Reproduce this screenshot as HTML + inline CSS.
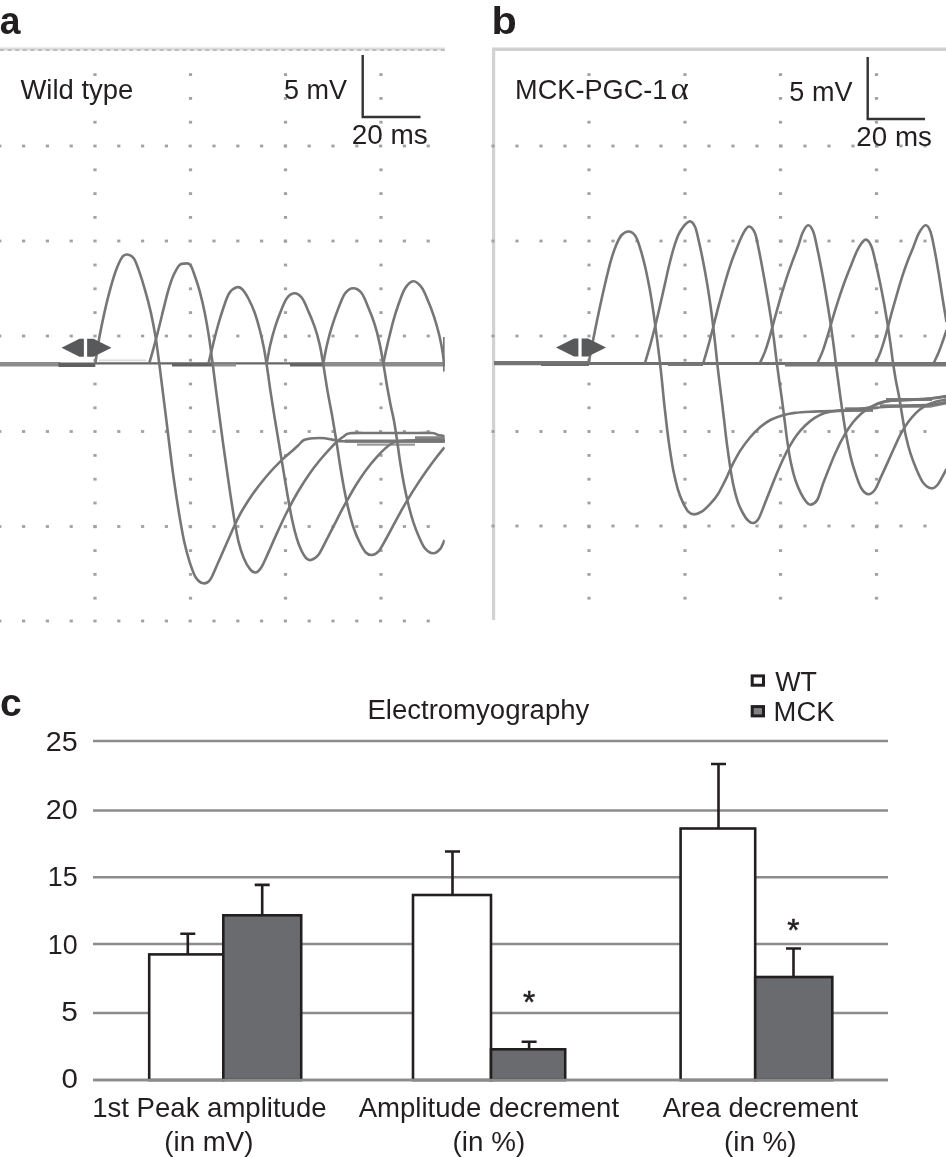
<!DOCTYPE html>
<html><head><meta charset="utf-8"><title>Figure</title>
<style>
html,body{margin:0;padding:0;background:#fff;}
body{width:946px;height:1157px;overflow:hidden;font-family:"Liberation Sans",sans-serif;}
svg{display:block;will-change:transform;}
</style></head><body>
<svg width="946" height="1157" viewBox="0 0 946 1157">
<rect x="0" y="0" width="946" height="1157" fill="#ffffff"/>
<g id="pa">
<line x1="0" y1="49" x2="445" y2="49" stroke="#dcdcdc" stroke-width="3"/>
<line x1="0" y1="50" x2="445" y2="50" stroke="#bdbdbd" stroke-width="1.8" stroke-dasharray="4 3.6"/>
<g fill="#a2a2a2"><rect x="-1.8" y="144.6" width="3.2" height="2.8"/><rect x="22.0" y="144.6" width="3.2" height="2.8"/><rect x="45.8" y="144.6" width="3.2" height="2.8"/><rect x="69.6" y="144.6" width="3.2" height="2.8"/><rect x="93.4" y="144.6" width="3.2" height="2.8"/><rect x="117.2" y="144.6" width="3.2" height="2.8"/><rect x="141.0" y="144.6" width="3.2" height="2.8"/><rect x="164.8" y="144.6" width="3.2" height="2.8"/><rect x="188.6" y="144.6" width="3.2" height="2.8"/><rect x="212.4" y="144.6" width="3.2" height="2.8"/><rect x="236.2" y="144.6" width="3.2" height="2.8"/><rect x="260.0" y="144.6" width="3.2" height="2.8"/><rect x="283.8" y="144.6" width="3.2" height="2.8"/><rect x="307.6" y="144.6" width="3.2" height="2.8"/><rect x="331.4" y="144.6" width="3.2" height="2.8"/><rect x="355.2" y="144.6" width="3.2" height="2.8"/><rect x="379.0" y="144.6" width="3.2" height="2.8"/><rect x="402.8" y="144.6" width="3.2" height="2.8"/><rect x="426.6" y="144.6" width="3.2" height="2.8"/><rect x="-1.8" y="239.6" width="3.2" height="2.8"/><rect x="22.0" y="239.6" width="3.2" height="2.8"/><rect x="45.8" y="239.6" width="3.2" height="2.8"/><rect x="69.6" y="239.6" width="3.2" height="2.8"/><rect x="93.4" y="239.6" width="3.2" height="2.8"/><rect x="117.2" y="239.6" width="3.2" height="2.8"/><rect x="141.0" y="239.6" width="3.2" height="2.8"/><rect x="164.8" y="239.6" width="3.2" height="2.8"/><rect x="188.6" y="239.6" width="3.2" height="2.8"/><rect x="212.4" y="239.6" width="3.2" height="2.8"/><rect x="236.2" y="239.6" width="3.2" height="2.8"/><rect x="260.0" y="239.6" width="3.2" height="2.8"/><rect x="283.8" y="239.6" width="3.2" height="2.8"/><rect x="307.6" y="239.6" width="3.2" height="2.8"/><rect x="331.4" y="239.6" width="3.2" height="2.8"/><rect x="355.2" y="239.6" width="3.2" height="2.8"/><rect x="379.0" y="239.6" width="3.2" height="2.8"/><rect x="402.8" y="239.6" width="3.2" height="2.8"/><rect x="426.6" y="239.6" width="3.2" height="2.8"/><rect x="-1.8" y="334.6" width="3.2" height="2.8"/><rect x="22.0" y="334.6" width="3.2" height="2.8"/><rect x="45.8" y="334.6" width="3.2" height="2.8"/><rect x="69.6" y="334.6" width="3.2" height="2.8"/><rect x="93.4" y="334.6" width="3.2" height="2.8"/><rect x="117.2" y="334.6" width="3.2" height="2.8"/><rect x="141.0" y="334.6" width="3.2" height="2.8"/><rect x="164.8" y="334.6" width="3.2" height="2.8"/><rect x="188.6" y="334.6" width="3.2" height="2.8"/><rect x="212.4" y="334.6" width="3.2" height="2.8"/><rect x="236.2" y="334.6" width="3.2" height="2.8"/><rect x="260.0" y="334.6" width="3.2" height="2.8"/><rect x="283.8" y="334.6" width="3.2" height="2.8"/><rect x="307.6" y="334.6" width="3.2" height="2.8"/><rect x="331.4" y="334.6" width="3.2" height="2.8"/><rect x="355.2" y="334.6" width="3.2" height="2.8"/><rect x="379.0" y="334.6" width="3.2" height="2.8"/><rect x="402.8" y="334.6" width="3.2" height="2.8"/><rect x="426.6" y="334.6" width="3.2" height="2.8"/><rect x="-1.8" y="430.1" width="3.2" height="2.8"/><rect x="22.0" y="430.1" width="3.2" height="2.8"/><rect x="45.8" y="430.1" width="3.2" height="2.8"/><rect x="69.6" y="430.1" width="3.2" height="2.8"/><rect x="93.4" y="430.1" width="3.2" height="2.8"/><rect x="117.2" y="430.1" width="3.2" height="2.8"/><rect x="141.0" y="430.1" width="3.2" height="2.8"/><rect x="164.8" y="430.1" width="3.2" height="2.8"/><rect x="188.6" y="430.1" width="3.2" height="2.8"/><rect x="212.4" y="430.1" width="3.2" height="2.8"/><rect x="236.2" y="430.1" width="3.2" height="2.8"/><rect x="260.0" y="430.1" width="3.2" height="2.8"/><rect x="283.8" y="430.1" width="3.2" height="2.8"/><rect x="307.6" y="430.1" width="3.2" height="2.8"/><rect x="331.4" y="430.1" width="3.2" height="2.8"/><rect x="355.2" y="430.1" width="3.2" height="2.8"/><rect x="379.0" y="430.1" width="3.2" height="2.8"/><rect x="402.8" y="430.1" width="3.2" height="2.8"/><rect x="426.6" y="430.1" width="3.2" height="2.8"/><rect x="-1.8" y="525.1" width="3.2" height="2.8"/><rect x="22.0" y="525.1" width="3.2" height="2.8"/><rect x="45.8" y="525.1" width="3.2" height="2.8"/><rect x="69.6" y="525.1" width="3.2" height="2.8"/><rect x="93.4" y="525.1" width="3.2" height="2.8"/><rect x="117.2" y="525.1" width="3.2" height="2.8"/><rect x="141.0" y="525.1" width="3.2" height="2.8"/><rect x="164.8" y="525.1" width="3.2" height="2.8"/><rect x="188.6" y="525.1" width="3.2" height="2.8"/><rect x="212.4" y="525.1" width="3.2" height="2.8"/><rect x="236.2" y="525.1" width="3.2" height="2.8"/><rect x="260.0" y="525.1" width="3.2" height="2.8"/><rect x="283.8" y="525.1" width="3.2" height="2.8"/><rect x="307.6" y="525.1" width="3.2" height="2.8"/><rect x="331.4" y="525.1" width="3.2" height="2.8"/><rect x="355.2" y="525.1" width="3.2" height="2.8"/><rect x="379.0" y="525.1" width="3.2" height="2.8"/><rect x="402.8" y="525.1" width="3.2" height="2.8"/><rect x="426.6" y="525.1" width="3.2" height="2.8"/><rect x="-1.8" y="619.6" width="3.2" height="2.8"/><rect x="22.0" y="619.6" width="3.2" height="2.8"/><rect x="45.8" y="619.6" width="3.2" height="2.8"/><rect x="69.6" y="619.6" width="3.2" height="2.8"/><rect x="93.4" y="619.6" width="3.2" height="2.8"/><rect x="117.2" y="619.6" width="3.2" height="2.8"/><rect x="141.0" y="619.6" width="3.2" height="2.8"/><rect x="164.8" y="619.6" width="3.2" height="2.8"/><rect x="188.6" y="619.6" width="3.2" height="2.8"/><rect x="212.4" y="619.6" width="3.2" height="2.8"/><rect x="236.2" y="619.6" width="3.2" height="2.8"/><rect x="260.0" y="619.6" width="3.2" height="2.8"/><rect x="283.8" y="619.6" width="3.2" height="2.8"/><rect x="307.6" y="619.6" width="3.2" height="2.8"/><rect x="331.4" y="619.6" width="3.2" height="2.8"/><rect x="355.2" y="619.6" width="3.2" height="2.8"/><rect x="379.0" y="619.6" width="3.2" height="2.8"/><rect x="402.8" y="619.6" width="3.2" height="2.8"/><rect x="426.6" y="619.6" width="3.2" height="2.8"/><rect x="93.4" y="73.2" width="3.2" height="2.8"/><rect x="93.4" y="97.0" width="3.2" height="2.8"/><rect x="93.4" y="120.8" width="3.2" height="2.8"/><rect x="93.4" y="168.4" width="3.2" height="2.8"/><rect x="93.4" y="192.2" width="3.2" height="2.8"/><rect x="93.4" y="216.0" width="3.2" height="2.8"/><rect x="93.4" y="263.6" width="3.2" height="2.8"/><rect x="93.4" y="287.4" width="3.2" height="2.8"/><rect x="93.4" y="311.2" width="3.2" height="2.8"/><rect x="93.4" y="358.8" width="3.2" height="2.8"/><rect x="93.4" y="382.6" width="3.2" height="2.8"/><rect x="93.4" y="406.4" width="3.2" height="2.8"/><rect x="93.4" y="454.0" width="3.2" height="2.8"/><rect x="93.4" y="477.8" width="3.2" height="2.8"/><rect x="93.4" y="501.6" width="3.2" height="2.8"/><rect x="93.4" y="525.4" width="3.2" height="2.8"/><rect x="93.4" y="549.2" width="3.2" height="2.8"/><rect x="93.4" y="573.0" width="3.2" height="2.8"/><rect x="93.4" y="596.8" width="3.2" height="2.8"/><rect x="188.9" y="73.2" width="3.2" height="2.8"/><rect x="188.9" y="97.0" width="3.2" height="2.8"/><rect x="188.9" y="120.8" width="3.2" height="2.8"/><rect x="188.9" y="168.4" width="3.2" height="2.8"/><rect x="188.9" y="192.2" width="3.2" height="2.8"/><rect x="188.9" y="216.0" width="3.2" height="2.8"/><rect x="188.9" y="263.6" width="3.2" height="2.8"/><rect x="188.9" y="287.4" width="3.2" height="2.8"/><rect x="188.9" y="311.2" width="3.2" height="2.8"/><rect x="188.9" y="358.8" width="3.2" height="2.8"/><rect x="188.9" y="382.6" width="3.2" height="2.8"/><rect x="188.9" y="406.4" width="3.2" height="2.8"/><rect x="188.9" y="454.0" width="3.2" height="2.8"/><rect x="188.9" y="477.8" width="3.2" height="2.8"/><rect x="188.9" y="501.6" width="3.2" height="2.8"/><rect x="188.9" y="525.4" width="3.2" height="2.8"/><rect x="188.9" y="549.2" width="3.2" height="2.8"/><rect x="188.9" y="573.0" width="3.2" height="2.8"/><rect x="188.9" y="596.8" width="3.2" height="2.8"/><rect x="283.9" y="73.2" width="3.2" height="2.8"/><rect x="283.9" y="97.0" width="3.2" height="2.8"/><rect x="283.9" y="120.8" width="3.2" height="2.8"/><rect x="283.9" y="144.6" width="3.2" height="2.8"/><rect x="283.9" y="168.4" width="3.2" height="2.8"/><rect x="283.9" y="192.2" width="3.2" height="2.8"/><rect x="283.9" y="216.0" width="3.2" height="2.8"/><rect x="283.9" y="239.8" width="3.2" height="2.8"/><rect x="283.9" y="263.6" width="3.2" height="2.8"/><rect x="283.9" y="287.4" width="3.2" height="2.8"/><rect x="283.9" y="311.2" width="3.2" height="2.8"/><rect x="283.9" y="335.0" width="3.2" height="2.8"/><rect x="283.9" y="358.8" width="3.2" height="2.8"/><rect x="283.9" y="382.6" width="3.2" height="2.8"/><rect x="283.9" y="406.4" width="3.2" height="2.8"/><rect x="283.9" y="430.2" width="3.2" height="2.8"/><rect x="283.9" y="454.0" width="3.2" height="2.8"/><rect x="283.9" y="477.8" width="3.2" height="2.8"/><rect x="283.9" y="501.6" width="3.2" height="2.8"/><rect x="283.9" y="525.4" width="3.2" height="2.8"/><rect x="283.9" y="549.2" width="3.2" height="2.8"/><rect x="283.9" y="573.0" width="3.2" height="2.8"/><rect x="283.9" y="596.8" width="3.2" height="2.8"/><rect x="379.4" y="73.2" width="3.2" height="2.8"/><rect x="379.4" y="97.0" width="3.2" height="2.8"/><rect x="379.4" y="120.8" width="3.2" height="2.8"/><rect x="379.4" y="168.4" width="3.2" height="2.8"/><rect x="379.4" y="192.2" width="3.2" height="2.8"/><rect x="379.4" y="216.0" width="3.2" height="2.8"/><rect x="379.4" y="263.6" width="3.2" height="2.8"/><rect x="379.4" y="287.4" width="3.2" height="2.8"/><rect x="379.4" y="311.2" width="3.2" height="2.8"/><rect x="379.4" y="358.8" width="3.2" height="2.8"/><rect x="379.4" y="382.6" width="3.2" height="2.8"/><rect x="379.4" y="406.4" width="3.2" height="2.8"/><rect x="379.4" y="454.0" width="3.2" height="2.8"/><rect x="379.4" y="477.8" width="3.2" height="2.8"/><rect x="379.4" y="501.6" width="3.2" height="2.8"/><rect x="379.4" y="525.4" width="3.2" height="2.8"/><rect x="379.4" y="549.2" width="3.2" height="2.8"/><rect x="379.4" y="573.0" width="3.2" height="2.8"/><rect x="379.4" y="596.8" width="3.2" height="2.8"/></g>
</g>
<g id="pb">
<line x1="492" y1="49.2" x2="946" y2="49.2" stroke="#d0d0d0" stroke-width="3.6"/>
<line x1="493.6" y1="48" x2="493.6" y2="620" stroke="#d2d2d2" stroke-width="3.2"/>
<g fill="#a2a2a2"><rect x="491.4" y="144.6" width="3.2" height="2.8"/><rect x="515.4" y="144.6" width="3.2" height="2.8"/><rect x="539.4" y="144.6" width="3.2" height="2.8"/><rect x="563.4" y="144.6" width="3.2" height="2.8"/><rect x="587.4" y="144.6" width="3.2" height="2.8"/><rect x="611.4" y="144.6" width="3.2" height="2.8"/><rect x="635.4" y="144.6" width="3.2" height="2.8"/><rect x="659.4" y="144.6" width="3.2" height="2.8"/><rect x="683.4" y="144.6" width="3.2" height="2.8"/><rect x="707.4" y="144.6" width="3.2" height="2.8"/><rect x="731.4" y="144.6" width="3.2" height="2.8"/><rect x="755.4" y="144.6" width="3.2" height="2.8"/><rect x="779.4" y="144.6" width="3.2" height="2.8"/><rect x="803.4" y="144.6" width="3.2" height="2.8"/><rect x="827.4" y="144.6" width="3.2" height="2.8"/><rect x="851.4" y="144.6" width="3.2" height="2.8"/><rect x="875.4" y="144.6" width="3.2" height="2.8"/><rect x="899.4" y="144.6" width="3.2" height="2.8"/><rect x="923.4" y="144.6" width="3.2" height="2.8"/><rect x="491.4" y="239.6" width="3.2" height="2.8"/><rect x="515.4" y="239.6" width="3.2" height="2.8"/><rect x="539.4" y="239.6" width="3.2" height="2.8"/><rect x="563.4" y="239.6" width="3.2" height="2.8"/><rect x="587.4" y="239.6" width="3.2" height="2.8"/><rect x="611.4" y="239.6" width="3.2" height="2.8"/><rect x="635.4" y="239.6" width="3.2" height="2.8"/><rect x="659.4" y="239.6" width="3.2" height="2.8"/><rect x="683.4" y="239.6" width="3.2" height="2.8"/><rect x="707.4" y="239.6" width="3.2" height="2.8"/><rect x="731.4" y="239.6" width="3.2" height="2.8"/><rect x="755.4" y="239.6" width="3.2" height="2.8"/><rect x="779.4" y="239.6" width="3.2" height="2.8"/><rect x="803.4" y="239.6" width="3.2" height="2.8"/><rect x="827.4" y="239.6" width="3.2" height="2.8"/><rect x="851.4" y="239.6" width="3.2" height="2.8"/><rect x="875.4" y="239.6" width="3.2" height="2.8"/><rect x="899.4" y="239.6" width="3.2" height="2.8"/><rect x="923.4" y="239.6" width="3.2" height="2.8"/><rect x="491.4" y="334.6" width="3.2" height="2.8"/><rect x="515.4" y="334.6" width="3.2" height="2.8"/><rect x="539.4" y="334.6" width="3.2" height="2.8"/><rect x="563.4" y="334.6" width="3.2" height="2.8"/><rect x="587.4" y="334.6" width="3.2" height="2.8"/><rect x="611.4" y="334.6" width="3.2" height="2.8"/><rect x="635.4" y="334.6" width="3.2" height="2.8"/><rect x="659.4" y="334.6" width="3.2" height="2.8"/><rect x="683.4" y="334.6" width="3.2" height="2.8"/><rect x="707.4" y="334.6" width="3.2" height="2.8"/><rect x="731.4" y="334.6" width="3.2" height="2.8"/><rect x="755.4" y="334.6" width="3.2" height="2.8"/><rect x="779.4" y="334.6" width="3.2" height="2.8"/><rect x="803.4" y="334.6" width="3.2" height="2.8"/><rect x="827.4" y="334.6" width="3.2" height="2.8"/><rect x="851.4" y="334.6" width="3.2" height="2.8"/><rect x="875.4" y="334.6" width="3.2" height="2.8"/><rect x="899.4" y="334.6" width="3.2" height="2.8"/><rect x="923.4" y="334.6" width="3.2" height="2.8"/><rect x="491.4" y="430.1" width="3.2" height="2.8"/><rect x="515.4" y="430.1" width="3.2" height="2.8"/><rect x="539.4" y="430.1" width="3.2" height="2.8"/><rect x="563.4" y="430.1" width="3.2" height="2.8"/><rect x="587.4" y="430.1" width="3.2" height="2.8"/><rect x="611.4" y="430.1" width="3.2" height="2.8"/><rect x="635.4" y="430.1" width="3.2" height="2.8"/><rect x="659.4" y="430.1" width="3.2" height="2.8"/><rect x="683.4" y="430.1" width="3.2" height="2.8"/><rect x="707.4" y="430.1" width="3.2" height="2.8"/><rect x="731.4" y="430.1" width="3.2" height="2.8"/><rect x="755.4" y="430.1" width="3.2" height="2.8"/><rect x="779.4" y="430.1" width="3.2" height="2.8"/><rect x="803.4" y="430.1" width="3.2" height="2.8"/><rect x="827.4" y="430.1" width="3.2" height="2.8"/><rect x="851.4" y="430.1" width="3.2" height="2.8"/><rect x="875.4" y="430.1" width="3.2" height="2.8"/><rect x="899.4" y="430.1" width="3.2" height="2.8"/><rect x="923.4" y="430.1" width="3.2" height="2.8"/><rect x="491.4" y="524.6" width="3.2" height="2.8"/><rect x="515.4" y="524.6" width="3.2" height="2.8"/><rect x="539.4" y="524.6" width="3.2" height="2.8"/><rect x="563.4" y="524.6" width="3.2" height="2.8"/><rect x="587.4" y="524.6" width="3.2" height="2.8"/><rect x="611.4" y="524.6" width="3.2" height="2.8"/><rect x="635.4" y="524.6" width="3.2" height="2.8"/><rect x="659.4" y="524.6" width="3.2" height="2.8"/><rect x="683.4" y="524.6" width="3.2" height="2.8"/><rect x="707.4" y="524.6" width="3.2" height="2.8"/><rect x="731.4" y="524.6" width="3.2" height="2.8"/><rect x="755.4" y="524.6" width="3.2" height="2.8"/><rect x="779.4" y="524.6" width="3.2" height="2.8"/><rect x="803.4" y="524.6" width="3.2" height="2.8"/><rect x="827.4" y="524.6" width="3.2" height="2.8"/><rect x="851.4" y="524.6" width="3.2" height="2.8"/><rect x="875.4" y="524.6" width="3.2" height="2.8"/><rect x="899.4" y="524.6" width="3.2" height="2.8"/><rect x="923.4" y="524.6" width="3.2" height="2.8"/><rect x="587.4" y="73.2" width="3.2" height="2.8"/><rect x="587.4" y="97.0" width="3.2" height="2.8"/><rect x="587.4" y="120.8" width="3.2" height="2.8"/><rect x="587.4" y="168.4" width="3.2" height="2.8"/><rect x="587.4" y="192.2" width="3.2" height="2.8"/><rect x="587.4" y="216.0" width="3.2" height="2.8"/><rect x="587.4" y="263.6" width="3.2" height="2.8"/><rect x="587.4" y="287.4" width="3.2" height="2.8"/><rect x="587.4" y="311.2" width="3.2" height="2.8"/><rect x="587.4" y="358.8" width="3.2" height="2.8"/><rect x="587.4" y="382.6" width="3.2" height="2.8"/><rect x="587.4" y="406.4" width="3.2" height="2.8"/><rect x="587.4" y="454.0" width="3.2" height="2.8"/><rect x="587.4" y="477.8" width="3.2" height="2.8"/><rect x="587.4" y="501.6" width="3.2" height="2.8"/><rect x="587.4" y="525.4" width="3.2" height="2.8"/><rect x="587.4" y="549.2" width="3.2" height="2.8"/><rect x="587.4" y="573.0" width="3.2" height="2.8"/><rect x="587.4" y="596.8" width="3.2" height="2.8"/><rect x="683.4" y="73.2" width="3.2" height="2.8"/><rect x="683.4" y="97.0" width="3.2" height="2.8"/><rect x="683.4" y="120.8" width="3.2" height="2.8"/><rect x="683.4" y="168.4" width="3.2" height="2.8"/><rect x="683.4" y="192.2" width="3.2" height="2.8"/><rect x="683.4" y="216.0" width="3.2" height="2.8"/><rect x="683.4" y="263.6" width="3.2" height="2.8"/><rect x="683.4" y="287.4" width="3.2" height="2.8"/><rect x="683.4" y="311.2" width="3.2" height="2.8"/><rect x="683.4" y="358.8" width="3.2" height="2.8"/><rect x="683.4" y="382.6" width="3.2" height="2.8"/><rect x="683.4" y="406.4" width="3.2" height="2.8"/><rect x="683.4" y="454.0" width="3.2" height="2.8"/><rect x="683.4" y="477.8" width="3.2" height="2.8"/><rect x="683.4" y="501.6" width="3.2" height="2.8"/><rect x="683.4" y="525.4" width="3.2" height="2.8"/><rect x="683.4" y="549.2" width="3.2" height="2.8"/><rect x="683.4" y="573.0" width="3.2" height="2.8"/><rect x="683.4" y="596.8" width="3.2" height="2.8"/><rect x="778.9" y="73.2" width="3.2" height="2.8"/><rect x="778.9" y="97.0" width="3.2" height="2.8"/><rect x="778.9" y="120.8" width="3.2" height="2.8"/><rect x="778.9" y="144.6" width="3.2" height="2.8"/><rect x="778.9" y="168.4" width="3.2" height="2.8"/><rect x="778.9" y="192.2" width="3.2" height="2.8"/><rect x="778.9" y="216.0" width="3.2" height="2.8"/><rect x="778.9" y="239.8" width="3.2" height="2.8"/><rect x="778.9" y="263.6" width="3.2" height="2.8"/><rect x="778.9" y="287.4" width="3.2" height="2.8"/><rect x="778.9" y="311.2" width="3.2" height="2.8"/><rect x="778.9" y="335.0" width="3.2" height="2.8"/><rect x="778.9" y="358.8" width="3.2" height="2.8"/><rect x="778.9" y="382.6" width="3.2" height="2.8"/><rect x="778.9" y="406.4" width="3.2" height="2.8"/><rect x="778.9" y="430.2" width="3.2" height="2.8"/><rect x="778.9" y="454.0" width="3.2" height="2.8"/><rect x="778.9" y="477.8" width="3.2" height="2.8"/><rect x="778.9" y="501.6" width="3.2" height="2.8"/><rect x="778.9" y="525.4" width="3.2" height="2.8"/><rect x="778.9" y="549.2" width="3.2" height="2.8"/><rect x="778.9" y="573.0" width="3.2" height="2.8"/><rect x="778.9" y="596.8" width="3.2" height="2.8"/><rect x="874.9" y="73.2" width="3.2" height="2.8"/><rect x="874.9" y="97.0" width="3.2" height="2.8"/><rect x="874.9" y="120.8" width="3.2" height="2.8"/><rect x="874.9" y="144.6" width="3.2" height="2.8"/><rect x="874.9" y="168.4" width="3.2" height="2.8"/><rect x="874.9" y="192.2" width="3.2" height="2.8"/><rect x="874.9" y="216.0" width="3.2" height="2.8"/><rect x="874.9" y="239.8" width="3.2" height="2.8"/><rect x="874.9" y="263.6" width="3.2" height="2.8"/><rect x="874.9" y="287.4" width="3.2" height="2.8"/><rect x="874.9" y="311.2" width="3.2" height="2.8"/><rect x="874.9" y="335.0" width="3.2" height="2.8"/><rect x="874.9" y="358.8" width="3.2" height="2.8"/><rect x="874.9" y="382.6" width="3.2" height="2.8"/><rect x="874.9" y="406.4" width="3.2" height="2.8"/><rect x="874.9" y="430.2" width="3.2" height="2.8"/><rect x="874.9" y="454.0" width="3.2" height="2.8"/><rect x="874.9" y="477.8" width="3.2" height="2.8"/><rect x="874.9" y="501.6" width="3.2" height="2.8"/><rect x="874.9" y="525.4" width="3.2" height="2.8"/><rect x="874.9" y="549.2" width="3.2" height="2.8"/><rect x="874.9" y="573.0" width="3.2" height="2.8"/><rect x="874.9" y="596.8" width="3.2" height="2.8"/></g>
</g>
<clipPath id="ca"><rect x="0" y="45" width="444.8" height="580"/></clipPath>
<g clip-path="url(#ca)" fill="none" stroke="#767676" stroke-width="2.6" stroke-linejoin="round" stroke-linecap="butt">
<line x1="0" y1="364.3" x2="60" y2="364.3" stroke="#8c8c8c" stroke-width="4.4"/>
<line x1="58.5" y1="364.7" x2="95.3" y2="364.7" stroke="#606060" stroke-width="4.6"/>
<line x1="95" y1="363.4" x2="445" y2="363.4" stroke="#666" stroke-width="2.2"/>
<line x1="99" y1="360.4" x2="146" y2="360.4" stroke="#dcdcdc" stroke-width="1.6"/>
<line x1="172" y1="365" x2="212" y2="365" stroke="#636363" stroke-width="3"/>
<line x1="212" y1="365" x2="236" y2="365" stroke="#909090" stroke-width="3"/>
<line x1="290" y1="365" x2="323" y2="365" stroke="#636363" stroke-width="3"/>
<line x1="323" y1="364.8" x2="445" y2="364.8" stroke="#8c8c8c" stroke-width="3.6"/>
<line x1="443.9" y1="337" x2="443.9" y2="371.5" stroke="#737373" stroke-width="1.8"/>
<path d="M357,444.6 H415" stroke="#9a9a9a" stroke-width="2.2"/>
<path d="M345,441.2 H445" stroke="#787878" stroke-width="3.2"/>
<path d="M415,439.5 H445" stroke="#848484" stroke-width="6.5"/>
<path d="M95.3,363.5 C95.9,359.4 97.6,347.4 99.0,339.2 C100.5,331.0 102.3,322.4 104.1,314.1 C105.9,305.9 108.0,297.1 110.1,289.6 C112.1,282.1 114.3,274.7 116.4,269.2 C118.5,263.7 120.7,259.1 122.5,256.7 C124.3,254.3 125.6,254.2 127.5,254.5 C129.4,254.8 131.9,255.8 133.7,258.3 C135.5,260.8 136.7,264.4 138.6,269.6 C140.4,274.8 142.9,282.3 144.9,289.6 C147.0,296.8 149.2,305.2 151.0,313.1 C152.7,321.0 154.2,328.8 155.6,337.1 C157.0,345.5 158.0,354.2 159.2,363.2 C160.4,372.2 161.5,381.6 162.7,390.9 C163.8,400.1 165.1,409.7 166.2,418.8 C167.3,427.8 168.4,436.5 169.4,445.0 C170.4,453.5 171.4,461.4 172.5,469.6 C173.6,477.8 174.8,485.9 176.0,494.1 C177.3,502.4 178.6,511.1 180.0,519.1 C181.4,527.2 182.8,535.4 184.4,542.5 C186.0,549.6 187.7,556.0 189.6,561.8 C191.5,567.7 193.5,573.9 195.8,577.5 C198.1,581.1 200.9,582.9 203.3,583.3 C205.7,583.7 207.7,583.0 210.0,580.0 C212.3,577.0 214.6,570.5 217.1,565.0 C219.6,559.5 222.4,553.1 225.0,547.1 C227.6,541.1 230.3,534.9 232.9,529.1 C235.5,523.4 237.7,518.5 240.8,512.9 C244.0,507.3 247.4,501.5 251.7,495.4 C255.9,489.4 261.5,482.2 266.3,476.5 C271.1,470.8 276.3,465.4 280.4,461.4 C284.6,457.3 288.0,454.6 291.0,451.9 C294.0,449.2 296.3,447.2 298.4,445.2 C300.6,443.3 301.4,441.2 304.0,440.0 C306.6,438.8 310.5,438.5 314.0,438.2 C317.5,437.9 321.5,437.8 325.0,438.2 C328.5,438.6 331.7,439.8 335.0,440.3 C338.3,440.8 334.2,441.1 345.0,441.2 C355.8,441.3 383.4,441.2 400.0,441.2 C416.6,441.2 437.1,441.2 444.5,441.2"/>
<path d="M149.2,363.5 C150.1,360.4 152.7,351.5 154.4,345.1 C156.1,338.6 158.0,331.4 159.6,325.0 C161.2,318.6 162.6,312.5 164.1,306.7 C165.6,300.8 166.8,295.2 168.4,290.0 C169.9,284.8 171.6,279.6 173.4,275.5 C175.3,271.4 177.4,267.3 179.2,265.3 C181.0,263.3 182.7,263.7 184.5,263.6 C186.3,263.5 188.3,262.6 190.0,264.5 C191.7,266.4 193.0,270.8 194.6,275.3 C196.2,279.8 198.1,285.3 199.8,291.6 C201.5,298.0 203.3,305.5 204.8,313.1 C206.3,320.7 207.7,328.8 209.0,337.1 C210.3,345.5 211.4,354.2 212.6,363.2 C213.8,372.2 214.9,381.6 216.1,390.9 C217.3,400.1 218.6,409.7 219.8,418.8 C221.0,427.8 222.1,436.4 223.3,445.0 C224.5,453.6 225.7,461.9 226.9,470.4 C228.1,478.9 229.4,487.6 230.6,495.9 C231.9,504.1 233.1,512.4 234.4,520.0 C235.7,527.6 237.0,535.3 238.5,541.6 C240.1,548.0 241.8,553.5 243.7,558.1 C245.6,562.7 248.0,566.8 250.0,569.2 C252.0,571.6 253.9,572.9 255.8,572.5 C257.8,572.1 259.5,570.2 261.7,566.7 C263.9,563.2 266.2,557.3 268.8,551.6 C271.3,546.0 274.1,539.4 277.1,532.9 C280.1,526.4 283.3,519.2 286.7,512.5 C290.1,505.8 293.8,498.9 297.5,492.5 C301.3,486.1 305.4,479.6 309.2,474.2 C312.9,468.8 316.6,464.1 320.0,460.0 C323.4,455.9 326.5,452.4 329.4,449.3 C332.2,446.3 334.8,443.6 337.1,441.5 C339.5,439.3 341.5,437.9 343.6,436.5 C345.8,435.1 345.6,433.8 350.0,433.2 C354.4,432.6 363.2,433.0 370.0,433.0 C376.8,433.0 384.3,433.0 391.0,433.0 C397.7,433.0 403.2,433.0 410.0,433.0 C416.8,433.0 427.3,432.7 432.0,433.0 C436.7,433.3 435.9,434.5 438.0,435.0 C440.1,435.5 443.4,435.8 444.5,436.0"/>
<path d="M208.5,363.5 C209.2,360.4 211.3,351.5 212.9,345.1 C214.5,338.6 216.3,331.3 218.1,325.0 C219.9,318.7 221.7,312.8 223.5,307.5 C225.4,302.2 227.0,296.7 229.2,293.3 C231.4,289.9 234.6,288.0 236.7,287.3 C238.8,286.6 240.1,287.1 242.0,289.0 C243.9,290.9 246.3,294.6 248.4,298.5 C250.5,302.4 252.7,307.3 254.6,312.5 C256.5,317.8 258.3,324.2 259.8,330.0 C261.3,335.8 262.6,341.5 263.8,347.5 C265.0,353.6 265.8,359.1 266.9,366.3 C268.1,373.6 269.1,382.1 270.4,390.9 C271.8,399.6 273.3,409.7 274.8,418.8 C276.3,427.8 277.8,436.5 279.2,445.0 C280.6,453.5 281.9,461.7 283.3,470.0 C284.7,478.3 286.1,486.9 287.5,495.0 C288.9,503.1 290.4,511.6 291.9,518.8 C293.4,525.9 295.1,532.8 296.7,538.1 C298.3,543.5 300.0,547.4 301.5,550.8 C303.1,554.1 304.5,556.5 306.0,558.0 C307.5,559.5 308.8,560.5 310.8,560.0 C312.9,559.5 315.9,558.0 318.3,555.0 C320.7,552.0 322.9,546.8 325.4,542.1 C327.9,537.4 330.7,531.8 333.3,526.7 C336.0,521.5 338.7,516.1 341.2,511.2 C343.8,506.4 346.1,502.1 348.8,497.5 C351.4,492.8 354.1,488.0 357.1,483.3 C360.1,478.6 363.4,473.5 366.7,469.2 C370.0,464.8 373.5,460.6 376.7,457.1 C379.9,453.6 383.1,450.3 385.8,447.9 C388.6,445.5 390.4,443.8 393.3,442.6 C396.2,441.4 398.7,441.1 403.3,440.8 C408.0,440.4 414.3,440.4 421.1,440.2 C428.0,440.1 440.6,440.0 444.5,440.0"/>
<path d="M266.7,363.5 C267.3,360.3 269.0,350.3 270.4,344.2 C271.8,338.1 273.5,332.2 275.2,326.7 C276.9,321.2 278.9,316.0 280.8,311.3 C282.7,306.6 284.5,301.5 286.7,298.5 C288.9,295.5 291.7,293.5 294.2,293.3 C296.7,293.1 299.3,294.5 301.7,297.5 C304.1,300.5 306.2,306.2 308.3,311.1 C310.5,315.9 312.7,321.2 314.6,326.7 C316.5,332.2 318.1,337.8 319.6,344.2 C321.1,350.6 322.1,357.3 323.4,365.1 C324.7,372.9 326.0,382.3 327.5,390.9 C329.0,399.5 330.8,408.5 332.3,416.7 C333.7,424.9 334.9,432.0 336.2,440.0 C337.5,448.1 338.7,456.8 340.0,465.0 C341.3,473.2 342.8,481.8 344.2,489.2 C345.6,496.6 347.0,503.2 348.5,509.6 C350.1,516.0 351.7,522.1 353.5,527.5 C355.3,532.9 357.3,537.7 359.4,541.8 C361.4,546.0 363.7,550.3 365.8,552.5 C367.9,554.7 369.6,555.1 371.7,555.0 C373.8,554.9 376.0,554.2 378.3,551.7 C380.6,549.2 382.9,544.4 385.4,540.0 C387.9,535.6 390.7,530.3 393.3,525.4 C396.0,520.6 398.7,515.4 401.2,510.8 C403.8,506.2 406.1,502.3 408.8,497.9 C411.4,493.5 414.1,489.2 417.1,484.6 C420.1,480.0 423.5,474.9 426.7,470.4 C429.9,465.9 433.2,461.5 436.1,457.7 C439.1,453.8 443.1,449.0 444.5,447.3"/>
<path d="M323.3,363.5 C323.9,360.3 325.6,350.5 327.1,344.2 C328.6,337.9 330.2,331.8 332.1,325.9 C334.0,319.9 336.2,313.8 338.3,308.4 C340.5,303.0 342.5,296.9 345.0,293.5 C347.5,290.1 350.5,288.3 353.3,288.3 C356.1,288.3 359.2,290.1 361.7,293.3 C364.2,296.5 366.2,302.4 368.3,307.5 C370.5,312.6 372.7,318.2 374.6,324.1 C376.5,330.1 378.1,336.5 379.6,343.4 C381.1,350.2 382.3,357.7 383.6,365.1 C384.9,372.4 386.1,380.8 387.3,387.6 C388.5,394.3 389.7,400.3 390.8,405.9 C391.9,411.4 393.0,415.3 394.0,420.9 C395.0,426.4 395.9,432.2 396.9,439.2 C397.9,446.1 399.0,454.8 400.2,462.5 C401.4,470.2 402.8,478.3 404.2,485.4 C405.6,492.5 407.0,498.9 408.5,505.0 C410.0,511.1 411.6,516.9 413.3,522.1 C415.0,527.3 416.8,531.9 418.7,536.2 C420.7,540.6 422.6,545.5 425.0,548.3 C427.4,551.1 430.8,553.1 433.3,553.3 C435.8,553.4 438.1,551.4 440.0,549.2 C441.9,547.0 443.8,541.5 444.5,540.0"/>
<path d="M383.3,363.5 C384.1,359.7 386.6,348.0 388.3,340.9 C390.0,333.8 391.6,327.0 393.3,320.8 C395.0,314.6 396.8,309.2 398.7,303.8 C400.7,298.4 402.6,292.2 405.0,288.5 C407.4,284.8 410.5,281.5 413.3,281.3 C416.1,281.1 419.2,284.2 421.7,287.5 C424.2,290.8 426.1,296.2 428.1,301.1 C430.2,305.9 432.2,311.2 434.0,316.7 C435.8,322.1 437.5,328.2 438.9,333.8 C440.3,339.4 441.4,345.3 442.3,350.2 C443.2,355.1 443.7,361.3 444.0,363.5"/>
</g>
<g fill="none" stroke="#767676" stroke-width="2.6" stroke-linejoin="round">
<line x1="494" y1="363.2" x2="589" y2="363.2" stroke="#747474" stroke-width="4.2"/>
<line x1="589" y1="363.4" x2="946" y2="363.4" stroke="#707070" stroke-width="3"/>
<line x1="541" y1="364.8" x2="589" y2="364.8" stroke="#6c6c6c" stroke-width="2.6"/>
<line x1="668" y1="364.6" x2="703" y2="364.6" stroke="#777" stroke-width="3"/>
<line x1="785" y1="364.6" x2="946" y2="364.6" stroke="#777" stroke-width="4"/>
<path d="M845,409.6 H873" stroke="#7c7c7c" stroke-width="4.6"/>
<path d="M880,406 H930 L946,402.6" stroke="#848484" stroke-width="3.6"/>
<path d="M886,399.6 H932" stroke="#808080" stroke-width="3"/>
<path d="M588.7,363.0 C589.6,358.2 592.4,343.3 594.3,334.1 C596.1,324.8 598.0,316.0 599.8,307.5 C601.6,299.0 603.4,291.0 605.2,283.3 C607.0,275.7 608.8,268.0 610.6,261.6 C612.4,255.3 614.2,249.8 616.0,245.4 C617.9,241.0 619.5,237.3 621.7,235.0 C623.9,232.7 626.9,231.2 629.2,231.5 C631.6,231.8 633.9,233.5 635.8,236.7 C637.7,239.8 639.2,245.1 640.8,250.4 C642.4,255.7 644.1,262.2 645.6,268.7 C647.1,275.3 648.5,282.7 649.8,289.6 C651.0,296.5 652.1,303.3 653.1,310.0 C654.1,316.7 655.0,323.3 655.8,329.6 C656.6,335.8 657.4,341.5 658.1,347.4 C658.9,353.3 659.5,358.6 660.2,364.8 C661.0,371.0 661.6,377.7 662.3,384.5 C663.0,391.3 663.6,398.3 664.4,405.4 C665.2,412.6 666.0,420.0 666.9,427.5 C667.8,435.0 668.9,443.2 670.0,450.4 C671.1,457.7 672.2,464.9 673.5,471.3 C674.8,477.7 676.2,483.6 677.7,488.8 C679.2,493.9 680.9,498.2 682.7,502.1 C684.5,505.9 686.4,509.6 688.3,511.7 C690.2,513.8 692.0,514.4 694.2,514.4 C696.4,514.4 699.1,513.4 701.7,511.7 C704.3,510.0 707.3,507.1 710.0,504.2 C712.7,501.3 715.4,498.1 717.9,494.2 C720.4,490.3 722.6,485.6 725.0,480.9 C727.4,476.1 729.5,470.5 732.1,465.4 C734.7,460.4 737.4,455.1 740.4,450.4 C743.4,445.8 746.7,441.4 750.0,437.5 C753.3,433.7 756.6,430.2 760.0,427.3 C763.4,424.4 766.7,422.0 770.4,420.0 C774.1,418.0 778.0,416.6 782.1,415.4 C786.2,414.2 790.2,413.5 794.8,412.9 C799.5,412.3 804.4,412.0 810.0,411.7 C815.7,411.4 822.2,411.4 828.8,411.1 C835.3,410.9 842.9,410.8 849.4,410.4 C855.9,410.0 862.0,409.4 867.8,408.8 C873.5,408.3 877.5,407.5 883.8,407.0 C890.0,406.5 897.7,406.3 905.2,405.9 C912.8,405.6 922.0,405.4 928.9,404.9 C935.8,404.3 943.6,402.9 946.5,402.5"/>
<path d="M645.0,363.0 C645.8,360.3 648.2,352.2 649.8,346.6 C651.4,341.0 652.8,335.4 654.4,329.2 C656.0,322.9 657.6,316.2 659.2,309.2 C660.8,302.2 662.5,294.5 664.2,287.1 C665.9,279.7 667.5,271.9 669.2,265.0 C670.9,258.1 672.6,251.4 674.4,245.8 C676.2,240.3 677.5,235.8 680.0,231.7 C682.5,227.6 686.7,222.3 689.2,221.5 C691.7,220.7 693.3,223.1 695.0,226.7 C696.7,230.3 697.8,237.0 699.2,242.9 C700.6,248.9 702.0,255.6 703.3,262.5 C704.7,269.5 706.1,277.3 707.3,284.6 C708.5,291.9 709.6,299.2 710.6,306.3 C711.6,313.4 712.5,320.4 713.3,327.1 C714.1,333.8 714.8,340.4 715.5,346.6 C716.2,352.7 716.7,358.2 717.3,364.0 C718.0,369.8 718.7,375.5 719.4,381.6 C720.2,387.7 721.0,394.2 721.8,400.9 C722.7,407.5 723.4,414.5 724.3,421.7 C725.1,428.8 725.9,436.4 726.9,443.8 C727.9,451.1 728.9,458.8 730.0,465.9 C731.1,472.9 732.2,479.8 733.5,485.8 C734.8,491.9 736.3,497.5 737.9,502.1 C739.5,506.7 741.4,510.4 743.1,513.5 C744.8,516.6 746.6,519.2 748.3,520.8 C750.0,522.4 751.6,523.3 753.3,523.0 C755.0,522.7 756.6,522.0 758.3,519.2 C760.0,516.4 761.8,511.3 763.7,506.5 C765.7,501.7 767.8,495.9 770.0,490.4 C772.2,484.9 774.5,479.0 776.7,473.7 C778.9,468.4 781.1,463.4 783.3,458.7 C785.5,454.1 787.7,449.7 790.0,445.7 C792.3,441.7 794.5,438.1 797.0,434.8 C799.6,431.4 802.3,428.3 805.2,425.5 C808.1,422.7 811.5,420.0 814.7,417.9 C818.0,415.8 820.7,414.1 824.7,412.9 C828.7,411.7 833.2,411.2 838.5,410.6 C843.8,410.0 851.2,410.0 856.4,409.4 C861.6,408.8 866.3,408.2 869.8,407.2 C873.2,406.3 874.3,404.9 877.2,403.8 C880.2,402.7 882.6,401.6 887.5,400.9 C892.4,400.2 899.6,400.0 906.5,399.7 C913.4,399.3 922.2,399.1 928.9,398.5 C935.5,397.9 943.6,396.4 946.5,396.0"/>
<path d="M703.3,363.0 C704.1,360.1 706.6,351.8 708.3,345.8 C710.0,339.7 711.6,333.4 713.3,326.7 C715.0,320.0 716.8,312.8 718.7,305.4 C720.7,298.1 722.9,289.8 725.0,282.5 C727.1,275.2 729.4,267.9 731.5,261.7 C733.7,255.5 735.7,250.4 737.8,245.4 C739.9,240.4 742.3,234.9 744.2,231.7 C746.1,228.5 747.4,226.2 749.2,226.5 C751.0,226.8 753.3,229.1 755.0,233.3 C756.7,237.5 757.8,245.0 759.2,251.6 C760.6,258.3 762.0,266.0 763.3,273.3 C764.7,280.7 766.0,288.6 767.3,295.9 C768.5,303.1 769.6,309.6 770.7,316.7 C771.8,323.8 772.8,330.9 773.8,338.3 C774.7,345.7 775.7,353.8 776.6,361.1 C777.6,368.4 778.5,375.2 779.4,382.0 C780.4,388.9 781.4,395.2 782.3,402.1 C783.2,409.0 784.1,416.2 785.0,423.3 C785.9,430.4 786.7,437.8 787.8,444.6 C788.8,451.4 789.9,458.1 791.2,464.1 C792.5,470.2 794.0,475.9 795.6,480.8 C797.3,485.6 799.1,489.8 800.8,493.2 C802.6,496.7 804.4,499.6 806.0,501.5 C807.6,503.4 808.6,504.9 810.5,504.7 C812.4,504.4 815.1,503.6 817.2,500.0 C819.3,496.4 821.1,488.9 823.2,483.3 C825.3,477.8 827.4,472.2 829.7,466.7 C831.9,461.1 834.2,455.4 836.8,450.0 C839.2,444.6 842.0,439.2 844.7,434.6 C847.4,430.0 850.3,425.8 853.0,422.3 C855.7,418.8 858.5,416.1 861.1,413.7 C863.8,411.4 866.3,409.9 868.8,408.4 C871.3,406.8 873.4,405.6 876.2,404.5 C879.1,403.4 881.4,402.3 886.0,401.5 C890.6,400.8 897.1,400.5 904.0,400.1 C910.9,399.6 920.5,399.5 927.6,398.9 C934.7,398.3 943.4,396.9 946.5,396.5"/>
<path d="M760.0,363.0 C760.8,361.1 763.3,356.1 765.0,351.6 C766.7,347.1 768.3,341.7 770.0,335.9 C771.7,330.0 773.4,323.2 775.2,316.7 C777.0,310.2 778.9,303.3 780.8,296.7 C782.8,290.1 784.9,283.2 786.9,277.1 C788.9,271.0 791.0,265.2 792.9,260.1 C794.8,254.9 796.5,250.8 798.1,246.3 C799.7,241.8 800.9,236.5 802.5,233.0 C804.1,229.5 806.2,225.4 808.0,225.2 C809.8,225.0 811.7,227.6 813.3,231.7 C814.9,235.8 816.2,243.4 817.6,249.9 C819.0,256.4 820.4,263.5 821.7,270.6 C823.1,277.7 824.4,285.4 825.6,292.5 C826.8,299.6 828.0,306.6 829.0,313.3 C830.1,320.0 831.1,326.8 831.9,332.9 C832.8,339.0 833.5,344.6 834.2,349.9 C834.9,355.2 835.4,359.7 836.0,364.9 C836.7,370.0 837.4,375.3 838.2,380.8 C838.9,386.3 839.7,392.0 840.5,397.9 C841.4,403.9 842.2,410.2 843.2,416.7 C844.2,423.2 845.3,430.4 846.5,437.1 C847.8,443.8 849.2,450.9 850.7,457.1 C852.2,463.2 853.9,468.9 855.7,474.1 C857.5,479.4 859.2,485.0 861.3,488.3 C863.3,491.6 865.8,493.9 868.0,494.2 C870.2,494.5 872.5,492.9 874.7,490.0 C876.9,487.1 878.7,481.7 880.9,477.1 C883.1,472.4 885.5,467.2 887.8,462.1 C890.1,457.0 892.4,451.6 894.7,446.7 C896.9,441.8 899.0,437.1 901.3,432.9 C903.6,428.8 905.9,425.1 908.4,421.7 C910.9,418.3 913.6,415.3 916.3,412.6 C919.1,410.0 921.8,407.8 924.9,406.1 C928.0,404.3 931.2,403.1 934.8,402.0 C938.4,400.9 944.5,399.9 946.5,399.5"/>
<path d="M817.5,363.0 C818.3,361.1 820.8,356.0 822.5,351.6 C824.2,347.1 825.8,341.8 827.5,336.2 C829.2,330.7 830.9,324.4 832.7,318.3 C834.5,312.2 836.5,305.8 838.5,299.6 C840.6,293.3 842.8,286.8 845.0,280.8 C847.2,274.9 849.5,269.1 851.7,263.7 C853.9,258.3 856.0,252.3 858.3,248.3 C860.6,244.3 863.4,239.9 865.6,239.6 C867.8,239.3 869.8,242.6 871.5,246.7 C873.2,250.8 874.5,257.9 876.0,264.1 C877.4,270.2 878.8,276.7 880.2,283.4 C881.6,290.1 882.9,297.2 884.2,304.1 C885.4,311.0 886.6,318.1 887.7,324.7 C888.7,331.3 889.6,337.6 890.5,343.9 C891.4,350.2 892.1,356.6 893.0,362.8 C893.9,368.9 894.9,374.9 895.9,380.8 C897.0,386.6 898.2,392.0 899.3,397.9 C900.4,403.9 901.3,410.3 902.4,416.7 C903.5,423.1 904.5,430.0 905.9,436.3 C907.3,442.5 908.9,448.7 910.7,454.2 C912.5,459.7 914.5,464.7 916.5,469.4 C918.6,474.1 920.5,479.3 923.0,482.5 C925.5,485.7 928.8,488.0 931.3,488.3 C933.8,488.6 935.5,487.4 938.0,484.2 C940.5,481.0 945.1,471.5 946.5,469.0"/>
<path d="M875.6,363.0 C876.4,361.1 878.9,356.2 880.6,351.6 C882.3,346.9 884.0,341.2 885.8,335.0 C887.6,328.8 889.4,321.1 891.3,314.1 C893.2,307.2 895.3,299.8 897.2,293.3 C899.0,286.8 900.9,280.7 902.6,275.4 C904.3,270.1 905.9,265.8 907.6,261.2 C909.3,256.7 911.1,252.6 913.0,247.9 C914.9,243.2 916.7,237.1 918.8,233.3 C920.9,229.5 923.5,225.5 925.5,225.2 C927.5,224.9 929.0,227.5 930.5,231.7 C932.0,235.9 933.3,243.5 934.7,250.4 C936.0,257.3 937.3,265.1 938.6,272.9 C939.9,280.7 941.1,289.0 942.4,297.2 C943.7,305.4 945.8,317.9 946.5,322.0"/>
<path d="M933.8,363.0 C934.6,361.2 937.2,355.8 938.8,352.0 C940.4,348.1 941.9,343.6 943.2,340.0 C944.5,336.3 946.0,331.7 946.5,330.0"/>
</g>
<g fill="#58595b"><path d="M83.9,338.8 L79.5,338.8 L61.5,347.8 L79.5,356.8 L83.9,356.8 Z"/><path d="M87.1,338.8 L93.5,338.8 L111.5,347.8 L93.5,356.8 L87.1,356.8 Z"/></g>
<g fill="#58595b"><path d="M578.4,338.5 L574.0,338.5 L556.0,347.5 L574.0,356.5 L578.4,356.5 Z"/><path d="M581.6,338.5 L588.0,338.5 L606.0,347.5 L588.0,356.5 L581.6,356.5 Z"/></g>
<path d="M362.7,55 V117 H420.5" fill="none" stroke="#333" stroke-width="2.4"/>
<path d="M867.7,57 V119 H925" fill="none" stroke="#333" stroke-width="2.4"/>
<g font-family="Liberation Sans, sans-serif" fill="#231f20">
<text transform="translate(20.44,99.20) scale(0.9879,1)" font-size="27.80px">Wild type</text>
<text transform="translate(284.07,99.20) scale(0.9707,1)" font-size="27.80px">5 mV</text>
<text transform="translate(351.66,144.30) scale(1.0068,1)" font-size="27.80px">20 ms</text>
<text transform="translate(515.12,98.80) scale(0.9770,1)" font-size="27.80px">MCK-PGC-1</text>
<text transform="translate(670.49,99.20) scale(1.1233,1)" font-size="31.00px" font-family="Liberation Serif, serif">α</text>
<text transform="translate(789.37,100.50) scale(0.9723,1)" font-size="27.80px">5 mV</text>
<text transform="translate(856.37,146.00) scale(0.9973,1)" font-size="27.80px">20 ms</text>
<text transform="translate(-0.35,33.80) scale(0.9818,1)" font-size="38.00px" font-weight="bold">a</text>
<text transform="translate(491.57,34.00) scale(1.0904,1)" font-size="38.00px" font-weight="bold">b</text>
<text transform="translate(-0.04,716.40) scale(1.0270,1)" font-size="38.00px" font-weight="bold">c</text>
</g>
<g stroke="#8c8c8c" stroke-width="2.5">
<line x1="93" y1="1080.0" x2="888" y2="1080.0" stroke-width="2.7"/>
<line x1="93" y1="1013.0" x2="888" y2="1013.0"/>
<line x1="93" y1="943.9" x2="888" y2="943.9"/>
<line x1="93" y1="877.3" x2="888" y2="877.3"/>
<line x1="93" y1="810.5" x2="888" y2="810.5"/>
<line x1="93" y1="741.0" x2="888" y2="741.0"/>
</g>
<g font-family="Liberation Sans, sans-serif" fill="#231f20">
<text transform="translate(61.42,1088.40) scale(1.0846,1)" font-size="27.20px">0</text>
<text transform="translate(61.22,1020.90) scale(1.0987,1)" font-size="27.20px">5</text>
<text transform="translate(47.83,953.80) scale(0.9865,1)" font-size="27.20px">10</text>
<text transform="translate(47.83,886.30) scale(0.9865,1)" font-size="27.20px">15</text>
<text transform="translate(45.79,819.40) scale(1.0563,1)" font-size="27.20px">20</text>
<text transform="translate(45.79,751.30) scale(1.0563,1)" font-size="27.20px">25</text>
</g>
<g stroke="#231f20" stroke-width="2.6" fill="none">
<rect x="149.2" y="954.4" width="74.1" height="125.6" fill="#ffffff"/>
<path d="M187.8,954.4 V933.8 M180.3,933.8 H195.3"/>
<rect x="223.3" y="915.3" width="77.9" height="164.7" fill="#6a6b6e"/>
<path d="M262.2,915.3 V884.9 M254.7,884.9 H269.7"/>
<rect x="413.0" y="895.0" width="78.0" height="185.0" fill="#ffffff"/>
<path d="M452.5,895.0 V851.5 M445.0,851.5 H460.0"/>
<rect x="491.0" y="1049.3" width="74.2" height="30.7" fill="#6a6b6e"/>
<path d="M529.1,1049.3 V1041.7 M521.6,1041.7 H536.6"/>
<rect x="680.6" y="828.5" width="74.6" height="251.5" fill="#ffffff"/>
<path d="M718.5,828.5 V764.0 M711.0,764.0 H726.0"/>
<rect x="755.2" y="977.0" width="77.1" height="103.0" fill="#6a6b6e"/>
<path d="M793.5,977.0 V948.5 M786.0,948.5 H801.0"/>
</g>
<line x1="93" y1="1080" x2="888" y2="1080" stroke="#8c8c8c" stroke-width="2.7"/>
<g font-family="Liberation Sans, sans-serif" fill="#231f20">
<text transform="translate(367.41,718.80) scale(1.0131,1)" font-size="27.20px">Electromyography</text>
<text transform="translate(92.17,1117.30) scale(1.0136,1)" font-size="27.20px">1st Peak amplitude</text>
<text transform="translate(164.30,1151.30) scale(1.0170,1)" font-size="27.20px">(in mV)</text>
<text transform="translate(358.70,1117.30) scale(1.0133,1)" font-size="27.20px">Amplitude decrement</text>
<text transform="translate(452.60,1151.30) scale(1.0222,1)" font-size="27.20px">(in %)</text>
<text transform="translate(662.80,1117.30) scale(1.0093,1)" font-size="27.20px">Area decrement</text>
<text transform="translate(724.00,1151.30) scale(1.0222,1)" font-size="27.20px">(in %)</text>
<text transform="translate(775.14,690.60) scale(0.9880,1)" font-size="27.20px">WT</text>
<text transform="translate(773.62,721.00) scale(1.0069,1)" font-size="27.20px">MCK</text>
<text x="529.2" y="1012.6" font-size="31.5px" text-anchor="middle" stroke="#231f20" stroke-width="0.5">*</text>
<text x="793.5" y="940.8" font-size="31.5px" text-anchor="middle" stroke="#231f20" stroke-width="0.5">*</text>
</g>
<rect x="752.2" y="675.9" width="11.3" height="9.3" fill="#fff" stroke="#231f20" stroke-width="3"/>
<rect x="752.2" y="706.6" width="11.3" height="9.3" fill="#808285" stroke="#231f20" stroke-width="3"/>
</svg>
</body></html>
